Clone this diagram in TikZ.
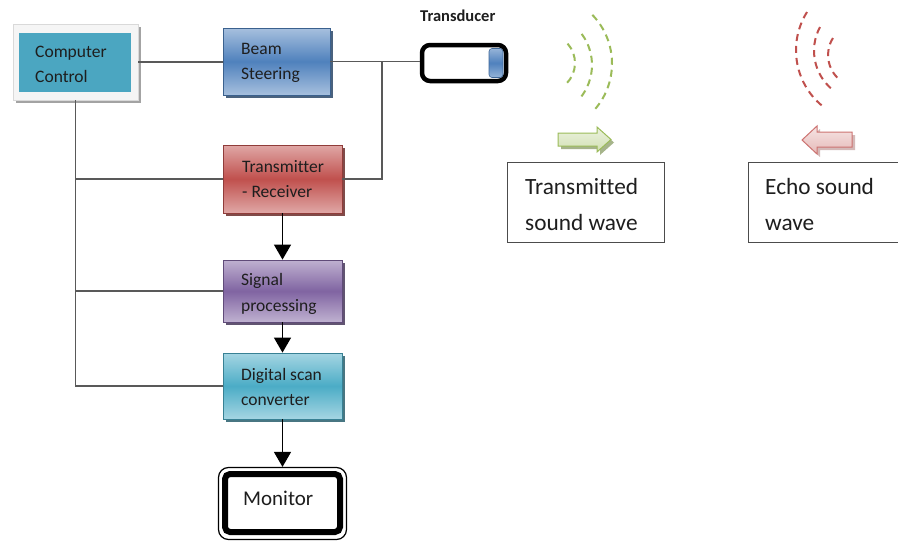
\documentclass[tikz,border=0pt]{standalone}
\usepackage{fontspec}
\setmainfont[Ligatures={NoCommon,NoRequired,NoContextual}]{Carlito}
\usetikzlibrary{arrows.meta,shadows}
\definecolor{bsblue}{RGB}{79,129,189}
\definecolor{trred}{RGB}{192,80,77}
\definecolor{sppurple}{RGB}{128,100,162}
\definecolor{dsteal}{RGB}{75,172,198}
\definecolor{ccteal}{RGB}{75,166,193}
\definecolor{wgreen}{RGB}{155,187,89}
\definecolor{wred}{RGB}{192,80,77}
\definecolor{txt}{RGB}{30,30,30}
\tikzset{
  blk/.style={draw=#1!75!black, line width=0.8pt, top color=#1!50!white, bottom color=#1!50!white, middle color=#1,
    drop shadow={shadow xshift=3pt, shadow yshift=-3pt, fill=#1!55!black, opacity=0.85},
    inner sep=0pt, minimum width=119pt},
  lbl/.style={anchor=base west, inner sep=0pt, text=txt, font=\fontsize{17.5}{20}\selectfont},
  biglbl/.style={anchor=base west, inner sep=0pt, text=txt, font=\fontsize{23.3}{26}\selectfont},
  conn/.style={draw=black!65, line width=1.3pt},
  arr/.style={draw=black, line width=1.3pt, -{Triangle[width=17pt,length=15pt]}},
  wave/.style={line width=2pt, dash pattern=on 7pt off 5pt},
  txtbox/.style={draw=black!70, line width=1pt, minimum height=80pt, inner sep=0pt}
}
\begin{document}
\begin{tikzpicture}[x=1pt,y=-1pt]
\clip (0,0) rectangle (898,541);
\fill[white] (0,0) rectangle (898,541);

% Computer control
\node[draw=black!15, fill=black!4, line width=0.6pt, minimum width=125pt, minimum height=76pt, inner sep=0pt,
  drop shadow={shadow xshift=3pt, shadow yshift=-3pt, fill=black!40, opacity=0.9}] (cc) at (75.5,62) {};
\node[fill=ccteal, minimum width=112pt, minimum height=59pt, inner sep=0pt] (ccin) at (75,62.5) {};
\node[lbl] (ccT1) at (35,57) {Computer};
\node[lbl] (ccT2) at (35,82) {Control};

% blocks
\node[blk=bsblue, minimum width=107pt, minimum height=67pt] (beam) at (276.5,61.5) {};
\node[lbl] (beamT1) at (241,54) {Beam};
\node[lbl] (beamT2) at (241,79) {Steering};

\node[blk=trred, minimum height=68pt] (tr) at (282.5,179) {};
\node[lbl] (trT1) at (242,172) {Transmitter};
\node[lbl] (trT2) at (242,197) {- Receiver};

\node[blk=sppurple, minimum height=62pt] (sp) at (282.5,291) {};
\node[lbl] (spT1) at (241,285) {Signal};
\node[lbl] (spT2) at (241,311) {processing};

\node[blk=dsteal, minimum height=66pt] (dsc) at (282.5,386) {};
\node[lbl] (dscT1) at (241,380) {Digital scan};
\node[lbl] (dscT2) at (241,405) {converter};

% transducer
\node[draw=black, line width=4.5pt, rounded corners=8pt, minimum width=84pt, minimum height=36pt, inner sep=0pt] (td) at (464,63) {};
\node[draw=bsblue!80!black, line width=0.6pt, rounded corners=3pt, top color=bsblue!60!white, bottom color=bsblue!60!white, middle color=bsblue, minimum width=14pt, minimum height=29pt, inner sep=0pt] (tdcap) at (496,63) {};
\node[anchor=base west, inner sep=0pt, text=txt, font=\bfseries\fontsize{16.5}{18}\selectfont] (tdT) at (420,21) {Transducer};

% monitor
\node[draw=black, line width=1.2pt, rounded corners=10pt, minimum width=128pt, minimum height=72pt, inner sep=0pt] (mon) at (282.5,503.5) {};
\node[draw=black, line width=6pt, rounded corners=5pt, minimum width=115pt, minimum height=58pt, inner sep=0pt] (monin) at (282.5,503) {};
\node[anchor=base west, inner sep=0pt, text=txt, font=\fontsize{21}{24}\selectfont] (monT) at (243,505) {Monitor};

% connectors
\coordinate (j1) at (382,61.5);
\draw[conn] (cc.east) -- (cc.east -| beam.west);
\draw[conn] (beam.east) -- (beam.east -| td.west);
\draw[conn] (j1) |- (tr.east);
\draw[conn] (cc.south) |- (dsc.west);
\draw[conn] (cc.south |- tr.west) -- (tr.west);
\draw[conn] (cc.south |- sp.west) -- (sp.west);
\draw[arr] (tr.south) -- (sp.north);
\draw[arr] (sp.south) -- (dsc.north);
\draw[arr] (dsc.south) -- (mon.north);

% waves
\draw[wave, wgreen] ([shift={(-44:70)}]542,63.5) arc[start angle=-44, end angle=44, radius=70];
\draw[wave, wgreen] ([shift={(-36.7:52)}]540,65) arc[start angle=-36.7, end angle=39.4, radius=52];
\draw[wave, wgreen] ([shift={(-42:29)}]546,63) arc[start angle=-42, end angle=45, radius=29];
\draw[wave, wred] ([shift={(-147.9:72)}]868,50.3) arc[start angle=-147.9, end angle=-233.3, radius=72];
\draw[wave, wred] ([shift={(-151.6:50)}]864,50.8) arc[start angle=-151.6, end angle=-231.7, radius=50];
\draw[wave, wred] ([shift={(-147.5:31.8)}]859.8,55.1) arc[start angle=-147.5, end angle=-231.5, radius=31.8];

% block arrows
\fill[wgreen!70!black, opacity=0.6] (561,136) -- (600,136) -- (600,130) -- (614,142.5) -- (600,155) -- (600,149) -- (561,149) -- cycle;
\draw[wgreen, line width=1pt, top color=wgreen!20!white, bottom color=wgreen!45!white] (558,133) -- (597,133) -- (597,127) -- (611,139.5) -- (597,152) -- (597,146) -- (558,146) -- cycle;
\fill[wred!70!black, opacity=0.35] (855,135) -- (820,135) -- (820,129) -- (805,143) -- (820,157) -- (820,150) -- (855,150) -- cycle;
\draw[wred!80!white, line width=1pt, top color=wred!15!white, bottom color=wred!40!white] (852,132) -- (817,132) -- (817,126) -- (802,140) -- (817,154) -- (817,147) -- (852,147) -- cycle;

% text boxes
\node[txtbox, minimum width=157pt] (tsw) at (585.5,202) {};
\node[biglbl] (tswT1) at (525,194) {Transmitted};
\node[biglbl] (tswT2) at (525,230) {sound wave};
\node[txtbox, minimum width=162pt] (esw) at (829,202) {};
\node[biglbl] (eswT1) at (765,194) {Echo sound};
\node[biglbl] (eswT2) at (765,230) {wave};
\end{tikzpicture}
\end{document}
